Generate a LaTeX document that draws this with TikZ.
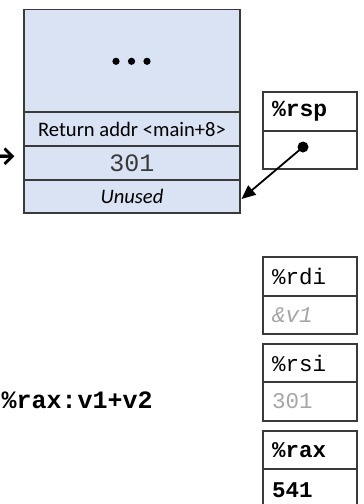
\documentclass[tikz,border=0pt]{standalone}
\usepackage{fontspec}
\setmainfont{Carlito}
\setmonofont{Liberation Mono}
\usetikzlibrary{arrows.meta}
\definecolor{stackfill}{HTML}{DAE3F3}
\definecolor{edge}{HTML}{3A3A3A}
\definecolor{faint}{HTML}{A6A6A6}
\begin{document}
\begin{tikzpicture}[x=1pt,y=-1pt,
  cell/.style={draw=edge, line width=1.3pt, fill=stackfill, minimum width=216pt,
    inner sep=0pt, outer sep=0pt, anchor=north west},
  reg/.style={draw=edge, line width=1.3pt, minimum width=94pt, text width=76pt,
    inner xsep=9pt, inner ysep=0pt, outer sep=0pt, align=left, anchor=north west,
    font=\fontsize{22.5}{24}\selectfont\ttfamily},
  regb/.style={reg, line width=1.8pt},
  calib/.style={font=\fontsize{20.6}{22}\selectfont}]
\useasboundingbox (0,0) rectangle (364,504);
\begin{scope}
\clip (0,0) rectangle (364,504);
% stack
\node[cell, minimum height=102.5pt] (top) at (24,9.5) {};
\node[cell, minimum height=34pt, calib] (ret) at (24,112) {Return addr <main+8>};
\node[cell, minimum height=34pt, font=\fontsize{25}{27}\selectfont\ttfamily, text=edge] (v301) at (24,146) {301};
\node[cell, minimum height=33pt, font=\fontsize{20.6}{22}\selectfont\itshape] (unused) at (24,180) {Unused};
\foreach \i/\xx in {1/116,2/131.5,3/147}
  \fill (\xx,61.3) circle (3.6pt);
% left arrow glyph
\node[anchor=east, inner sep=0pt, font=\fontsize{32}{34}\selectfont\bfseries] (larrow) at (15.5,157) {→};
% rsp
\node[reg, minimum height=39pt, font=\fontsize{23}{24}\selectfont\ttfamily\bfseries] (rsph) at (263,92) {\%rsp};
\node[reg, minimum height=38pt] (rspv) at (263,131) {};
\node[circle, fill=black, inner sep=0pt, minimum size=11pt] (dot) at (303,147) {};
\coordinate (tip) at (241.5,199);
\draw[line width=1.8pt, -{Triangle[length=14pt,width=12pt]}] (dot.center) -- (tip);
% rdi
\node[reg, minimum height=39pt] (rdih) at (263,257) {\%rdi};
\node[reg, minimum height=38pt, text=faint, font=\fontsize{22.5}{24}\selectfont\ttfamily\itshape] (rdiv) at (263,296) {\&v1};
% rsi
\node[reg, minimum height=38pt] (rsih) at (263,344) {\%rsi};
\node[reg, minimum height=39pt, text=faint] (rsiv) at (263,382) {301};
% rax
\node[regb, minimum height=38pt, font=\fontsize{22.5}{24}\selectfont\ttfamily\bfseries] (raxh) at (263,431) {\%rax};
\node[regb, minimum height=42pt, font=\fontsize{22.5}{24}\selectfont\ttfamily\bfseries] (raxv) at (263,469) {541};
% label
\node[anchor=west, inner sep=0pt, font=\fontsize{25}{27}\selectfont\ttfamily\bfseries] (lbl) at (1.5,400) {\%rax:\hspace{-0.56em} v1+v2};
\end{scope}
\end{tikzpicture}
\end{document}
